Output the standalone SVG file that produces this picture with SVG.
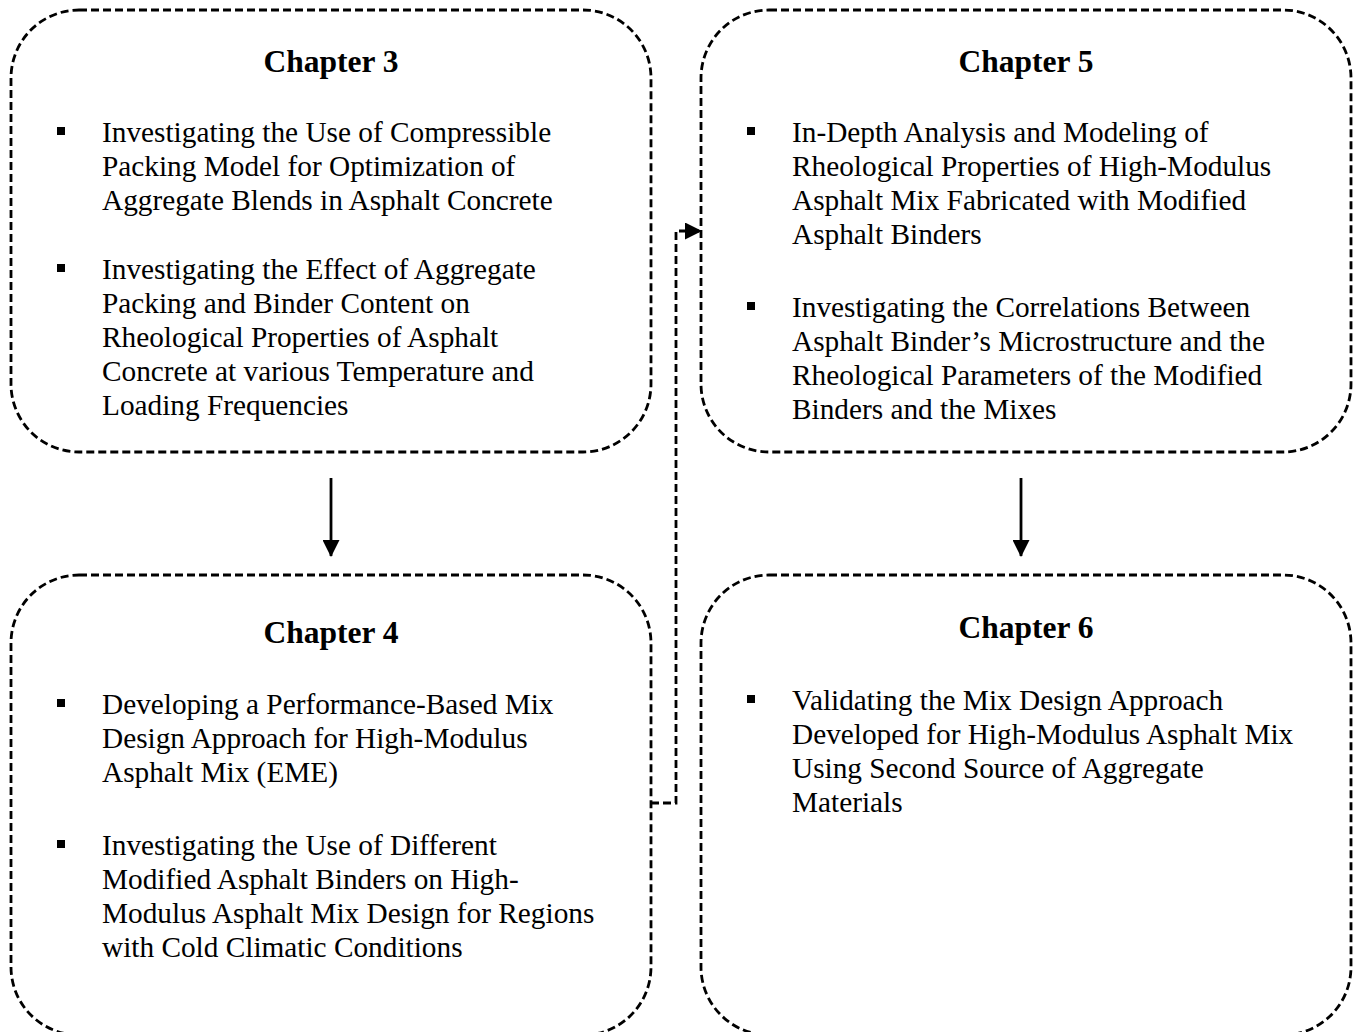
<svg xmlns="http://www.w3.org/2000/svg" width="1356" height="1032" viewBox="0 0 1356 1032">
<style>
.box{fill:none;stroke:#000;stroke-width:2.8;stroke-dasharray:8 4}
.t{font-family:"Liberation Serif","Times New Roman",serif;font-size:29.3px;fill:#000}
.h{font-family:"Liberation Serif","Times New Roman",serif;font-size:31.5px;font-weight:bold;fill:#000;text-anchor:middle}
.b{fill:#000}
.conn{fill:none;stroke:#000;stroke-width:2.8}
</style>
<defs>
<marker id="ah" markerWidth="17" markerHeight="17" refX="16" refY="8.5" orient="auto" markerUnits="userSpaceOnUse">
<path d="M0,0 L17,8.5 L0,17 Z" fill="#000"/>
</marker>
</defs>
<g id="ch3">
<rect class="box" x="11" y="10" width="640" height="442" rx="68" ry="68"/>
<text class="h" x="331" y="72">Chapter 3</text>
<rect class="b" x="57" y="127" width="8" height="8"/>
<text class="t" x="102" y="142">Investigating the Use of Compressible</text>
<text class="t" x="102" y="176">Packing Model for Optimization of</text>
<text class="t" x="102" y="210">Aggregate Blends in Asphalt Concrete</text>
<rect class="b" x="57" y="264" width="8" height="8"/>
<text class="t" x="102" y="279">Investigating the Effect of Aggregate</text>
<text class="t" x="102" y="313">Packing and Binder Content on</text>
<text class="t" x="102" y="347">Rheological Properties of Asphalt</text>
<text class="t" x="102" y="381">Concrete at various Temperature and</text>
<text class="t" x="102" y="415">Loading Frequencies</text>
</g>
<g id="ch5">
<rect class="box" x="701" y="10" width="650" height="442" rx="68" ry="68"/>
<text class="h" x="1026" y="72">Chapter 5</text>
<rect class="b" x="747" y="127" width="8" height="8"/>
<text class="t" x="792" y="142">In-Depth Analysis and Modeling of</text>
<text class="t" x="792" y="176">Rheological Properties of High-Modulus</text>
<text class="t" x="792" y="210">Asphalt Mix Fabricated with Modified</text>
<text class="t" x="792" y="244">Asphalt Binders</text>
<rect class="b" x="747" y="302" width="8" height="8"/>
<text class="t" x="792" y="317">Investigating the Correlations Between</text>
<text class="t" x="792" y="351">Asphalt Binder’s Microstructure and the</text>
<text class="t" x="792" y="385">Rheological Parameters of the Modified</text>
<text class="t" x="792" y="419">Binders and the Mixes</text>
</g>
<g id="ch4">
<rect class="box" x="11" y="575" width="640" height="460" rx="68" ry="68"/>
<text class="h" x="331" y="643">Chapter 4</text>
<rect class="b" x="57" y="699" width="8" height="8"/>
<text class="t" x="102" y="714">Developing a Performance-Based Mix</text>
<text class="t" x="102" y="748">Design Approach for High-Modulus</text>
<text class="t" x="102" y="782">Asphalt Mix (EME)</text>
<rect class="b" x="57" y="840" width="8" height="8"/>
<text class="t" x="102" y="855">Investigating the Use of Different</text>
<text class="t" x="102" y="889">Modified Asphalt Binders on High-</text>
<text class="t" x="102" y="923">Modulus Asphalt Mix Design for Regions</text>
<text class="t" x="102" y="957">with Cold Climatic Conditions</text>
</g>
<g id="ch6">
<rect class="box" x="701" y="575" width="650" height="460" rx="68" ry="68"/>
<text class="h" x="1026" y="638">Chapter 6</text>
<rect class="b" x="747" y="695" width="8" height="8"/>
<text class="t" x="792" y="710">Validating the Mix Design Approach</text>
<text class="t" x="792" y="744">Developed for High-Modulus Asphalt Mix</text>
<text class="t" x="792" y="778">Using Second Source of Aggregate</text>
<text class="t" x="792" y="812">Materials</text>
</g>
<g id="connectors">
<line class="conn" x1="331" y1="478" x2="331" y2="556" marker-end="url(#ah)"/>
<line class="conn" x1="1021" y1="478" x2="1021" y2="556" marker-end="url(#ah)"/>
<path class="conn" d="M651,803 H676 V231 H701" stroke-dasharray="8 4" marker-end="url(#ah)"/>
</g>
</svg>
